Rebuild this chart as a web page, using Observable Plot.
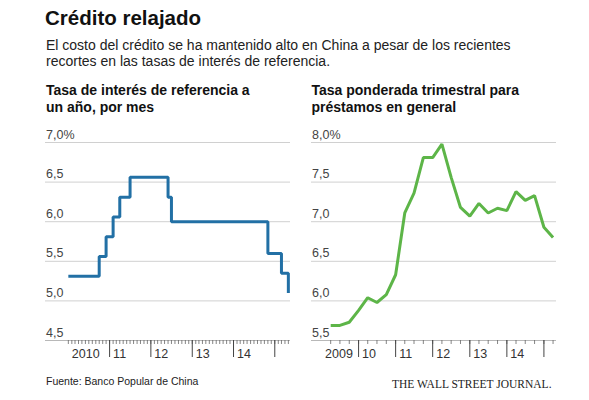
<!DOCTYPE html>
<html><head><meta charset="utf-8">
<script src="https://cdn.jsdelivr.net/npm/d3@7"></script>
<script src="https://cdn.jsdelivr.net/npm/@observablehq/plot@0.6"></script>
<style>
body{margin:0;background:#fff;font-family:"Liberation Sans",Arial,sans-serif;}
#wrap{position:relative;width:589px;height:400px;overflow:hidden;background:#fff;}
.t{position:absolute;white-space:nowrap;}
#title{left:45px;top:6px;font-size:20.5px;line-height:24px;font-weight:bold;color:#111;}
#sub{left:46px;top:37px;font-size:14px;line-height:16px;color:#222;}
.ptitle{top:82px;font-size:14px;line-height:17px;font-weight:bold;color:#111;}
#lt{left:46px;} #rt{left:311.5px;}
#src{left:46px;top:375px;font-size:10.5px;line-height:13px;color:#222;}
#wsj{left:392px;top:377px;font-family:"Liberation Serif","Times New Roman",serif;font-size:11.5px;line-height:14px;color:#222;letter-spacing:0px;}
.chart{position:absolute;top:120px;}
#left{left:0;} #right{left:300px;}
</style></head>
<body><div id="wrap">
<div id="title" class="t">Crédito relajado</div>
<div id="sub" class="t">El costo del crédito se ha mantenido alto en China a pesar de los recientes<br>recortes en las tasas de interés de referencia.</div>
<div id="lt" class="t ptitle">Tasa de interés de referencia a<br>un año, por mes</div>
<div id="rt" class="t ptitle">Tasa ponderada trimestral para<br>préstamos en general</div>
<div id="left" class="chart"></div>
<div id="right" class="chart"></div>
<div id="src" class="t">Fuente: Banco Popular de China</div>
<div id="wsj" class="t">THE WALL STREET JOURNAL.</div>
</div>
<script>
// Left: one-year benchmark lending rate (change points, monthly)
const refDates = ["2010-01","2010-10","2010-12","2011-02","2011-04","2011-07","2012-06","2012-07","2014-11","2015-03","2015-05"];
const refRates = [5.31,5.56,5.81,6.06,6.31,6.56,6.31,6.00,5.60,5.35,5.10];
// Right: quarterly weighted average lending rate
const loanQuarters = ["2009T1","2009T2","2009T3","2009T4","2010T1","2010T2","2010T3","2010T4",
  "2011T1","2011T2","2011T3","2011T4","2012T1","2012T2","2012T3","2012T4",
  "2013T1","2013T2","2013T3","2013T4","2014T1","2014T2","2014T3","2014T4","2015T1"];
const loanRates = [5.69,5.69,5.73,5.88,6.04,5.98,6.08,6.33,7.11,7.36,7.81,7.81,7.98,7.56,7.18,7.07,7.23,7.11,7.17,7.14,7.38,7.27,7.33,6.93,6.80];

const leftTicks = [4.5,5.0,5.5,6.0,6.5,7.0];
const leftTickLabels = ["4,5","5,0","5,5","6,0","6,5","7,0%"];
const rightTicks = [5.5,6.0,6.5,7.0,7.5,8.0];
const rightTickLabels = ["5,5","6,0","6,5","7,0","7,5","8,0%"];
const leftYears = [2010,2011,2012,2013,2014];
const leftYearLabels = ["2010","11","12","13","14"];
const rightYears = [2009,2010,2011,2012,2013,2014];
const rightYearLabels = ["2009","10","11","12","13","14"];

const parseM = d3.utcParse("%Y-%m");
const U = (y,m=0,d=1) => new Date(Date.UTC(y,m,d));
const refData = refDates.map((d,i)=>({date:parseM(d), rate:refRates[i]}));
const loanData = loanQuarters.map((q,i)=>{
  const y = +q.slice(0,4), n = +q.slice(5);
  return {date: U(y, n*3, 1), rate: loanRates[i]};
});

function panel({data, color, xDomain, width, marginLeft, marginRight, yTicks, yLabels,
                minorTicks, majorTicks, years, yearLabels, curve}) {
  const ydom = [yTicks[0], yTicks[yTicks.length-1]];
  return Plot.plot({
    width, height: 250, marginLeft, marginRight, marginTop: 22, marginBottom: 30,
    style: {fontFamily: '"Liberation Sans", Arial, sans-serif', fontSize: "12.5px", overflow: "visible", background: "transparent"},
    x: {type: "utc", domain: xDomain, axis: null},
    y: {domain: ydom, axis: null},
    marks: [
      Plot.ruleY(yTicks.slice(1), {stroke: "#d0d0d0", strokeWidth: 1}),
      Plot.ruleY([ydom[0]], {stroke: "#b8b8b8", strokeWidth: 1}),
      Plot.text(yTicks, {y: d=>d, text: (d,i)=>yLabels[i], frameAnchor: "left", textAnchor: "start", lineAnchor: "bottom", dx: 0.5, dy: -4, fill: "#444", fontSize: 12.5}),
      Plot.axisX(minorTicks, {anchor: "bottom", tickSize: 4, tickFormat: () => "", stroke: "#666", strokeWidth: 0.8}),
      Plot.axisX(majorTicks, {anchor: "bottom", tickSize: 17, tickFormat: () => "", stroke: "#444", strokeWidth: 1}),
      Plot.text(years, {x: d=>U(d), text: (d,i)=>yearLabels[i], frameAnchor: "bottom", textAnchor: "start", lineAnchor: "bottom", dx: 3.5, dy: 17.5, fill: "#333", fontSize: 12.5}),
      Plot.line(data, {x: "date", y: "rate", stroke: color, strokeWidth: 3, curve, strokeLinejoin: "miter", strokeLinecap: "butt"})
    ]
  });
}

document.getElementById("left").append(panel({
  data: refData, color: "#2270a5", curve: "step-after",
  xDomain: [U(2009,5,13), U(2015,4,20)], width: 300, marginLeft: 45, marginRight: 10,
  yTicks: leftTicks, yLabels: leftTickLabels,
  minorTicks: d3.utcMonth.range(U(2010,0,1), U(2015,5,1)),
  majorTicks: d3.utcYear.range(U(2011), U(2015,1,1)),
  years: leftYears, yearLabels: leftYearLabels
}));

document.getElementById("right").append(panel({
  data: loanData, color: "#5db548", curve: "linear",
  xDomain: [U(2008,8,24), U(2015,4,5)], width: 289, marginLeft: 11, marginRight: 33,
  yTicks: rightTicks, yLabels: rightTickLabels,
  minorTicks: d3.utcMonth.every(3).range(U(2009,3,1), U(2015,3,2)),
  majorTicks: d3.utcYear.range(U(2010), U(2015,1,1)),
  years: rightYears, yearLabels: rightYearLabels
}));
</script>
</body></html>
